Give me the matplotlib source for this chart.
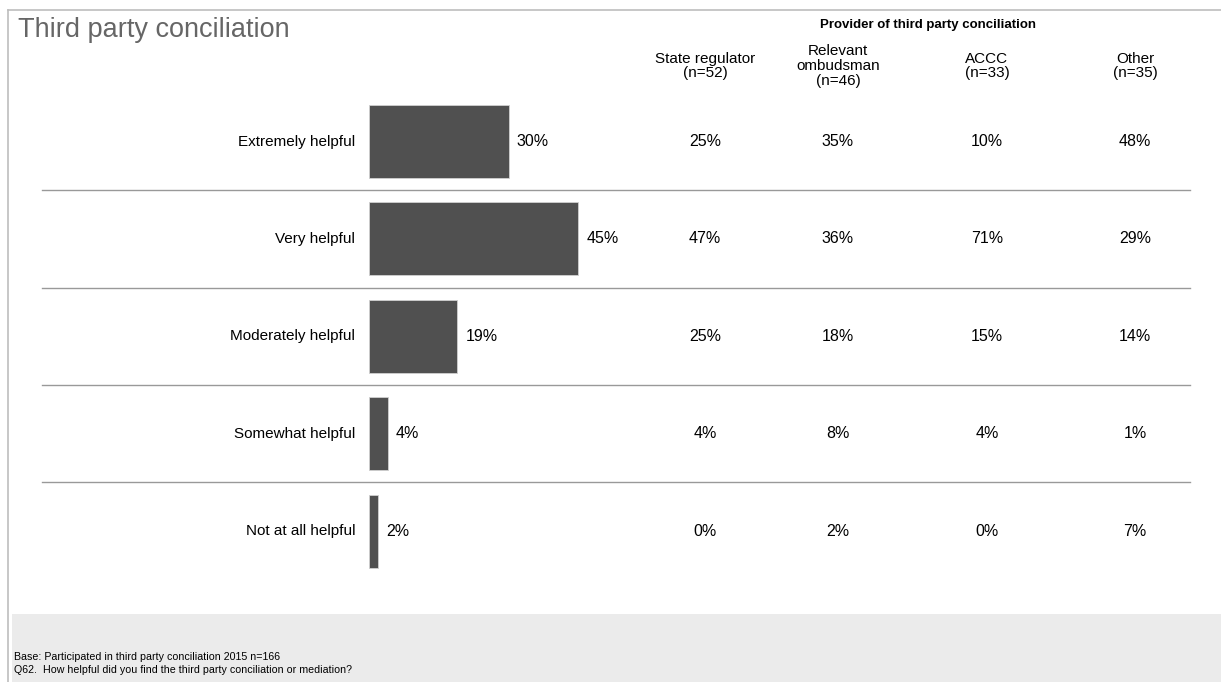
import matplotlib.pyplot as plt
import matplotlib.transforms as mtransforms
from matplotlib.patches import Rectangle
from matplotlib.lines import Line2D

plt.rcParams['font.family'] = ['Liberation Sans', 'DejaVu Sans']

# Data
categories = ['Extremely helpful', 'Very helpful', 'Moderately helpful',
              'Somewhat helpful', 'Not at all helpful']
overall = [30, 45, 19, 4, 2]
providers = ['State regulator\n(n=52)', 'Relevant\nombudsman\n(n=46)',
             'ACCC\n(n=33)', 'Other\n(n=35)']
provider_values = {
    'State regulator': [25, 47, 25, 4, 0],
    'Relevant ombudsman': [35, 36, 18, 8, 2],
    'ACCC': [10, 71, 15, 4, 0],
    'Other': [48, 29, 14, 1, 7],
}
title = 'Third party conciliation'
header = 'Provider of third party conciliation'
footnote = ['Base: Participated in third party conciliation 2015 n=166',
            'Q62.  How helpful did you find the third party conciliation or mediation?']

W, H = 1221, 682
fig = plt.figure(figsize=(W / 100, H / 100), dpi=100)

def fx(px):
    return px / W

def fy(py):
    return 1 - py / H

# outer box and footer
fig.add_artist(Line2D([fx(8), 1], [fy(10), fy(10)], color='#bdbdbd', lw=1.2))
fig.add_artist(Line2D([fx(8), fx(8)], [fy(10), 0], color='#bdbdbd', lw=1.2))
fig.add_artist(Rectangle((fx(12), 0), 1 - fx(12), fy(614), color='#ebebeb', lw=0))

fig.text(fx(18), fy(30), title, fontsize=19.5, color='#666666', va='center', ha='left')
fig.text(fx(928), fy(25), header, fontsize=9.5, fontweight='bold', ha='center', va='center')

# bar axes
ax = fig.add_axes([fx(369), fy(579.8), fx(465), (579.8 - 92.8) / H])
ax.set_xlim(0, 100)
ax.set_ylim(len(categories) - 0.5, -0.5)
ax.axis('off')

ypos = range(len(categories))
ax.barh(ypos, overall, height=0.75, color='#505050', edgecolor='#d0d0d0', linewidth=0.6)

trans = mtransforms.blended_transform_factory(fig.transFigure, ax.transData)
for i, (cat, v) in enumerate(zip(categories, overall)):
    ax.text(fx(355), i, cat, transform=trans, ha='right', va='center', fontsize=11)
    ax.annotate(f'{v}%', (v, i), xytext=(6, 0), textcoords='offset points',
                ha='left', va='center', fontsize=11.5)

col_x = [705, 838, 987, 1135]
for cx, name, key in zip(col_x, providers, provider_values):
    fig.text(fx(cx), fy(66), name, ha='center', va='center', fontsize=11,
             linespacing=1.05)
    for i, v in enumerate(provider_values[key]):
        ax.text(fx(cx), i, f'{v}%', transform=trans, ha='center', va='center', fontsize=11.5)

for i in range(len(categories) - 1):
    ax.plot([fx(42), fx(1190)], [i + 0.5, i + 0.5], transform=trans, color='#999999',
            lw=1, clip_on=False)

fig.text(fx(14), fy(657), footnote[0], fontsize=7.7, va='center')
fig.text(fx(14), fy(670), footnote[1], fontsize=7.7, va='center')

fig.savefig('out.png', dpi=100)
